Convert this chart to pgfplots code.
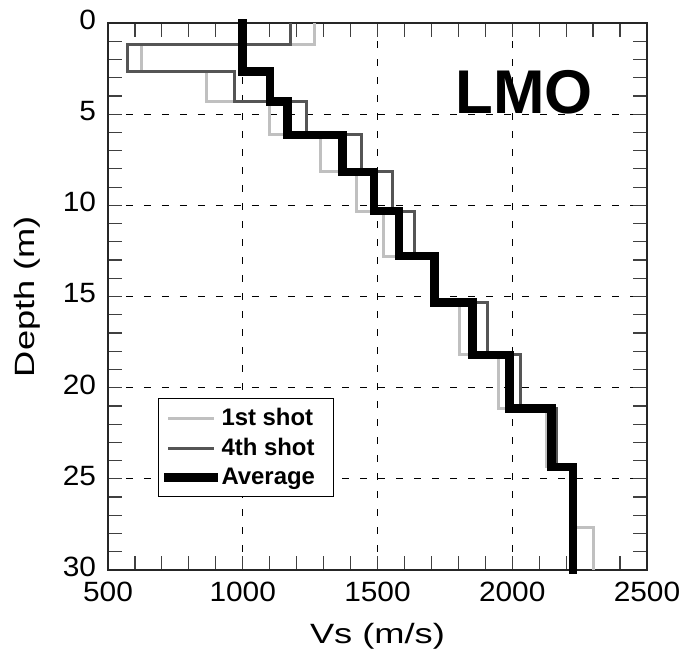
\documentclass[border=0pt]{standalone}
\usepackage{fontspec}
\setmainfont{Liberation Sans}
\newfontfamily\labelfont[FakeStretch=1.3]{Liberation Sans}
\newfontfamily\tickfont[FakeStretch=1.07]{Liberation Sans}
\usepackage{pgfplots}
\pgfplotsset{compat=1.18}
\definecolor{lgray}{HTML}{C0C0C0}
\definecolor{dgray}{HTML}{555555}
\begin{document}
\begin{tikzpicture}
\begin{axis}[
  scale only axis,
  width=269.5bp, height=273.5bp,
  xmin=500, xmax=2500, ymin=0, ymax=30,
  y dir=reverse,
  clip=false,
  xtick={500,1000,...,2500},
  ytick={0,5,...,30},
  minor x tick num=4, minor y tick num=4,
  tick align=inside,
  major tick length=7bp, minor tick length=7bp,
  every tick/.style={black!75, line width=0.6bp},
  axis line style={black!85, line width=1bp},
  grid=major,
  major grid style={black, line width=0.6bp, dash pattern=on 3.5bp off 5.5bp},
  /pgf/number format/assume math mode=true,
  /pgf/number format/1000 sep={},
  tick label style={font=\tickfont\fontsize{14}{17}\selectfont},
  xticklabel style={yshift=-2.5bp},
  yticklabel style={xshift=-2.5bp, yshift=1.5bp},
  xlabel={Vs (m/s)}, ylabel={Depth (m)},
  label style={font=\labelfont\fontsize{14}{17}\selectfont},
  x label style={at={([yshift=-36.5bp]axis description cs:0.5,0)}, anchor=base},
  y label style={at={([xshift=-36.5bp]axis description cs:0,0.5)}, anchor=base, rotate=0},
  legend style={at={(axis description cs:0.093,0.314)}, anchor=north west,
    draw=black, line width=0.6bp, inner xsep=2.5bp, inner ysep=3bp,
    font=\bfseries\fontsize{12}{14}\selectfont,
    nodes={inner sep=1.6bp}, row sep=1.6bp},
  legend cell align=left,
  legend image code/.code={\draw[#1] (0bp,0bp) -- (23bp,0bp);},
]
% 1st shot
\addplot[lgray, line width=1.5bp, no marks] coordinates {
(1268,0) (1268,1.2) (625,1.2) (625,2.67) (864,2.67) (864,4.3) (1100,4.3) (1100,6.14)
(1289,6.14) (1289,8.17) (1423,8.17) (1423,10.35) (1522,10.35) (1522,12.78)
(1712,12.78) (1712,15.34) (1804,15.34) (1804,18.2) (1948,18.2) (1948,21.15)
(2128,21.15) (2128,24.34) (2226,24.34) (2226,27.65) (2301,27.65) (2301,30)
};
\addlegendentry{1st shot\rule{5bp}{0pt}}
% 4th shot
\addplot[dgray, line width=1.5bp, no marks] coordinates {
(1178,0) (1178,1.2) (572,1.2) (572,2.67) (971,2.67) (971,4.3) (1237,4.3) (1237,6.14)
(1441,6.14) (1441,8.17) (1556,8.17) (1556,10.35) (1637,10.35) (1637,12.78)
(1712,12.78) (1712,15.34) (1908,15.34) (1908,18.2) (2029,18.2) (2029,21.15)
(2166,21.15) (2166,24.34) (2226,24.34) (2226,30)
};
\addlegendentry{4th shot\rule{5bp}{0pt}}
% Average
\addplot[black, line width=4.3bp, line cap=rect, no marks] coordinates {
(1000,0) (1000,2.67) (1101,2.67) (1101,4.3) (1167,4.3) (1167,6.14)
(1370,6.14) (1370,8.17) (1487,8.17) (1487,10.3) (1580,10.3) (1580,12.78)
(1712,12.78) (1712,15.34) (1853,15.34) (1853,18.2) (1989,18.2) (1989,21.15)
(2146,21.15) (2146,24.34) (2226,24.34) (2226,30)
};
\addlegendentry{Average\rule{5bp}{0pt}}
\node[anchor=base east, inner sep=0pt, font=\bfseries\fontsize{31}{36}\selectfont] at (axis cs:2300,4.94) {LMO};
\end{axis}
\pgfresetboundingbox
\path[use as bounding box] (-54bp,-45.5bp) rectangle (287.5bp,285bp);
\end{tikzpicture}
\end{document}
